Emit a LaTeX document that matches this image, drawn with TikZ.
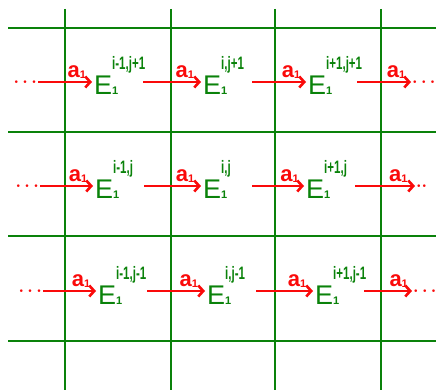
\documentclass[tikz,border=0pt]{standalone}
\usepackage{fontspec}
\setmainfont{Liberation Sans}
\usepackage{graphicx}
\usetikzlibrary{arrows.meta,positioning}
\definecolor{GridGreen}{RGB}{10,130,10}
\definecolor{FlowRed}{RGB}{250,10,10}
\tikzset{
  gridline/.style={draw=GridGreen,line width=2.6pt},
  cellnode/.style={text=GridGreen,anchor=west,inner sep=2pt,
    text width=47pt,align=left,text height=26pt,text depth=0pt,
    font=\fontsize{27}{27}\selectfont},
  dotnode/.style={text=FlowRed,inner sep=1pt,font=\boldmath\fontsize{18}{18}\selectfont},
  flowarrow/.style={-{Straight Barb[length=5pt,width=11pt]},
    line width=2.6pt,draw=FlowRed},
  steplabel/.style={text=FlowRed,above,pos=0.72,inner sep=2pt,
    font=\bfseries\fontsize{22}{22}\selectfont},
}
% E with subscript 1 and a superscript index pair
\newcommand{\Ecell}[1]{E\rlap{\raisebox{0pt}{\bfseries\fontsize{11}{11}\selectfont 1}}%
  \raisebox{25pt}{\scalebox{0.64}[1]{\bfseries\fontsize{18}{18}\selectfont #1}}}
\newcommand{\Astep}{a\raisebox{-1pt}{\fontsize{11}{11}\selectfont 1}}

\begin{document}
\begin{tikzpicture}[x=1pt,y=-1pt]
  \useasboundingbox (0,0) rectangle (436,390);
  % grid
  \foreach \gy in {28,132,236,341} \draw[gridline] (8,\gy) -- (436,\gy);
  \foreach \gx in {65,171,275,381} \draw[gridline] (\gx,9) -- (\gx,390);

  % row j+1
  \node[dotnode,anchor=east] (da1) at (38,82) {$\cdots$};
  \node[cellnode] (e11) at (92,82) {\Ecell{i-1,j+1}};
  \node[cellnode] (e12) at (201,82) {\Ecell{i,j+1}};
  \node[cellnode] (e13) at (306,82) {\Ecell{i+1,j+1}};
  \node[dotnode,anchor=west] (db1) at (411,82) {$\cdots$};
  \draw[flowarrow] (da1) -- node[steplabel]{\Astep} (e11);
  \draw[flowarrow] (e11) -- node[steplabel]{\Astep} (e12);
  \draw[flowarrow] (e12) -- node[steplabel]{\Astep} (e13);
  \draw[flowarrow] (e13) -- node[steplabel]{\Astep} (db1);

  % row j
  \node[dotnode,anchor=east] (da2) at (40,186) {$\cdots$};
  \node[cellnode] (e21) at (93,186) {\Ecell{i-1,j}};
  \node[cellnode] (e22) at (201,186) {\Ecell{i,j}};
  \node[cellnode] (e23) at (304,186) {\Ecell{i+1,j}};
  \node[dotnode,anchor=west] (db2) at (415,186) {$\cdot\cdot$};
  \draw[flowarrow] (da2) -- node[steplabel]{\Astep} (e21);
  \draw[flowarrow] (e21) -- node[steplabel]{\Astep} (e22);
  \draw[flowarrow] (e22) -- node[steplabel]{\Astep} (e23);
  \draw[flowarrow] (e23) -- node[steplabel]{\Astep} (db2);

  % row j-1
  \node[dotnode,anchor=east] (da3) at (43,291) {$\cdots$};
  \node[cellnode] (e31) at (96,291) {\Ecell{i-1,j-1}};
  \node[cellnode] (e32) at (205,291) {\Ecell{i,j-1}};
  \node[cellnode] (e33) at (313,291) {\Ecell{i+1,j-1}};
  \node[dotnode,anchor=west] (db3) at (412,291) {$\cdots$};
  \draw[flowarrow] (da3) -- node[steplabel]{\Astep} (e31);
  \draw[flowarrow] (e31) -- node[steplabel]{\Astep} (e32);
  \draw[flowarrow] (e32) -- node[steplabel]{\Astep} (e33);
  \draw[flowarrow] (e33) -- node[steplabel]{\Astep} (db3);
\end{tikzpicture}
\end{document}
